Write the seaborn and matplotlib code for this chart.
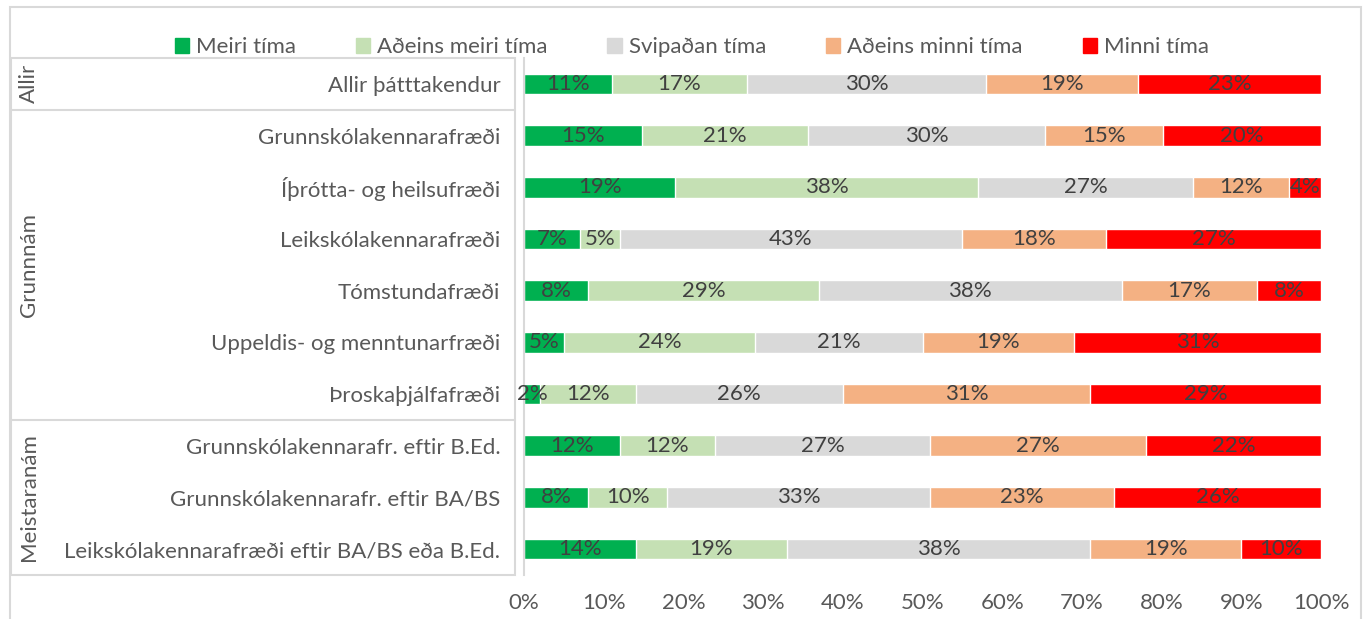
import matplotlib
matplotlib.use("Agg")
import matplotlib.pyplot as plt
from matplotlib.patches import Rectangle
from matplotlib.lines import Line2D
import seaborn as sns
import pandas as pd
import numpy as np

sns.set_style("white")
plt.rcParams['font.family'] = ['Lato', 'DejaVu Sans']

# data (percent of answers per group)
categories = ["Allir þátttakendur",
              "Grunnskólakennarafræði",
              "Íþrótta- og heilsufræði",
              "Leikskólakennarafræði",
              "Tómstundafræði",
              "Uppeldis- og menntunarfræði",
              "Þroskaþjálfafræði",
              "Grunnskólakennarafr. eftir B.Ed.",
              "Grunnskólakennarafr. eftir BA/BS",
              "Leikskólakennarafræði eftir BA/BS eða B.Ed."]
series = ["Meiri tíma", "Aðeins meiri tíma", "Svipaðan tíma", "Aðeins minni tíma", "Minni tíma"]
meiri = [11, 15, 19, 7, 8, 5, 2, 12, 8, 14]
adeins_meiri = [17, 21, 38, 5, 29, 24, 12, 12, 10, 19]
svipadan = [30, 30, 27, 43, 38, 21, 26, 27, 33, 38]
adeins_minni = [19, 15, 12, 18, 17, 19, 31, 27, 23, 19]
minni = [23, 20, 4, 27, 8, 31, 29, 22, 26, 10]
groups = ["Allir", "Grunnnám", "Meistaranám"]
group_sizes = [1, 6, 3]
colors = ["#00B050", "#C5E0B4", "#D9D9D9", "#F4B183", "#FF0000"]

FS = 16

vals = np.array([meiri, adeins_meiri, svipadan, adeins_minni, minni], dtype=float)
shares = vals / vals.sum(axis=0) * 100
cum = shares.cumsum(axis=0)

W, H = 1367, 619
fig = plt.figure(figsize=(W / 100, H / 100), dpi=100)
ax = fig.add_axes([524 / W, 1 - 575 / H, (1321 - 524) / W, (575 - 58) / H])

# stacked bars: draw cumulative totals from longest to shortest
for i in range(len(series) - 1, -1, -1):
    df = pd.DataFrame({"cat": categories, "v": cum[i]})
    sns.barplot(data=df, x="v", y="cat", order=categories, color=colors[i],
                width=0.4, saturation=1, ax=ax, orient="h")

for i in range(len(series)):
    for j in range(len(categories)):
        ax.text(cum[i, j] - shares[i, j] / 2, j, f"{int(vals[i, j])}%",
                ha="center", va="center", fontsize=FS, color="#404040")

ax.set_xlim(0, 100)
ax.set_ylim(len(categories) - 0.5, -0.5)
ax.set_xticks(range(0, 101, 10))
ax.set_xticklabels([f"{t}%" for t in range(0, 101, 10)])
ax.set_xlabel("")
ax.set_ylabel("")
ax.tick_params(axis="x", length=0, pad=13, labelsize=FS, labelcolor="#595959")
ax.tick_params(axis="y", length=0, pad=17, labelsize=FS, labelcolor="#595959")
for s in ["top", "right", "bottom"]:
    ax.spines[s].set_visible(False)
ax.spines["left"].set_color("#D9D9D9")
ax.spines["left"].set_linewidth(1.5)

# outer frame
fig.patches.append(Rectangle((10 / W, -0.05), (1361 - 10) / W, 1.05 - 7 / H,
                             transform=fig.transFigure, fill=False,
                             edgecolor="#D9D9D9", lw=1.5))
# left table box with group separators
fig.patches.append(Rectangle((11 / W, 1 - 575 / H), (515 - 11) / W, (575 - 58) / H,
                             transform=fig.transFigure, fill=False,
                             edgecolor="#D9D9D9", lw=1.5))
row_h = (575 - 58) / len(categories)
start = 0
for name, n in zip(groups, group_sizes):
    y_top = 58 + start * row_h
    y_bot = 58 + (start + n) * row_h
    if start > 0:
        fig.lines.append(Line2D([11 / W, 515 / W], [1 - y_top / H] * 2,
                                transform=fig.transFigure, color="#D9D9D9", lw=1.5))
    fig.text(29 / W, 1 - (y_top + y_bot) / 2 / H, name, rotation=90,
             ha="center", va="center", fontsize=FS, color="#595959")
    start += n

handles = [Rectangle((0, 0), 1, 1, color=c) for c in colors]
fig.legend(handles, series, loc="center", bbox_to_anchor=(0.506, 1 - 47 / H),
           ncol=5, frameon=False, fontsize=FS, handlelength=0.65, handleheight=0.65,
           handletextpad=0.3, columnspacing=2.7, labelcolor="#595959")

fig.savefig("out.png", dpi=100)
plt.close()
